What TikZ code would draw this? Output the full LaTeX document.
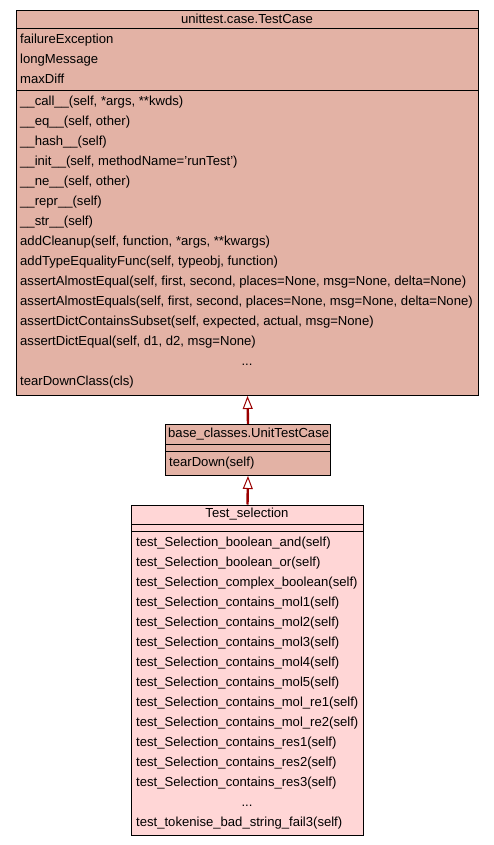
\documentclass[tikz,border=0pt]{standalone}
\usepackage{fontspec}
\setmainfont{Liberation Sans}
\usetikzlibrary{arrows.meta}
\definecolor{basefill}{HTML}{E3B2A5}
\definecolor{leaffill}{HTML}{FFD6D6}
\definecolor{edgered}{HTML}{9A0000}
\tikzset{
  x=1pt, y=-1pt,
  classbox/.style={draw=black, line width=1pt, anchor=north west, inner sep=0pt},
  member/.style={anchor=base west, inner sep=0pt, font=\fontsize{13.1}{14}\selectfont, text=black},
  title/.style={anchor=base, inner sep=0pt, font=\fontsize{13.1}{14}\selectfont, text=black},
  sep/.style={draw=black, line width=1pt},
  inherit/.style={draw=edgered, line width=2.4pt, -{Triangle[open, length=13pt, width=10pt, line width=1pt, fill=white]}},
}
\begin{document}
\begin{tikzpicture}
\useasboundingbox[fill=white] (0,0) rectangle (493,845);
% ---------- top class
\node[classbox, fill=basefill, minimum width=462pt, minimum height=385pt] (top) at (16,10) {};
\draw[sep] (16,29) -- (478,29);
\draw[sep] (16,91) -- (478,91);
\node[title] (topt) at (247,23.5) {unittest.case.TestCase};
\node[member] (a1) at (20,43.5) {failureException};
\node[member] (a2) at (20,63.5) {longMessage};
\node[member] (a3) at (20,83.5) {maxDiff};
\node[member] (m1) at (20,105.5) {\_\_call\_\_(self, *args, **kwds)};
\node[member] (m2) at (20,125.5) {\_\_eq\_\_(self, other)};
\node[member] (m3) at (20,145.5) {\_\_hash\_\_(self)};
\node[member] (m4) at (20,165.5) {\_\_init\_\_(self, methodName='runTest')};
\node[member] (m5) at (20,185.5) {\_\_ne\_\_(self, other)};
\node[member] (m6) at (20,205.5) {\_\_repr\_\_(self)};
\node[member] (m7) at (20,225.5) {\_\_str\_\_(self)};
\node[member] (m8) at (20,245.5) {addCleanup(self, function, *args, **kwargs)};
\node[member] (m9) at (20,265.5) {addTypeEqualityFunc(self, typeobj, function)};
\node[member] (m10) at (20,285.5) {assertAlmostEqual(self, first, second, places=None, msg=None, delta=None)};
\node[member] (m11) at (20,305.5) {assertAlmostEquals(self, first, second, places=None, msg=None, delta=None)};
\node[member] (m12) at (20,325.5) {assertDictContainsSubset(self, expected, actual, msg=None)};
\node[member] (m13) at (20,345.5) {assertDictEqual(self, d1, d2, msg=None)};
\node[title] (m14) at (247,365.5) {...};
\node[member] (m15) at (20,385.5) {tearDownClass(cls)};
% ---------- middle class
\node[classbox, fill=basefill, minimum width=165pt, minimum height=51pt] (mid) at (165,424) {};
\draw[sep] (165,444) -- (330,444);
\draw[sep] (165,451.5) -- (330,451.5);
\node[member] (midt) at (168,437.5) {base\_classes.UnitTestCase};
\node[member] (midm) at (169,466) {tearDown(self)};
% ---------- bottom class
\node[classbox, fill=leaffill, minimum width=232pt, minimum height=330pt] (bot) at (131,504.5) {};
\draw[sep] (131,524) -- (363,524);
\draw[sep] (131,531.5) -- (363,531.5);
\node[title] (bott) at (247,517.5) {Test\_selection};
\node[member] (b1) at (136,546) {test\_Selection\_boolean\_and(self)};
\node[member] (b2) at (136,566) {test\_Selection\_boolean\_or(self)};
\node[member] (b3) at (136,586) {test\_Selection\_complex\_boolean(self)};
\node[member] (b4) at (136,606) {test\_Selection\_contains\_mol1(self)};
\node[member] (b5) at (136,626) {test\_Selection\_contains\_mol2(self)};
\node[member] (b6) at (136,646) {test\_Selection\_contains\_mol3(self)};
\node[member] (b7) at (136,666) {test\_Selection\_contains\_mol4(self)};
\node[member] (b8) at (136,686) {test\_Selection\_contains\_mol5(self)};
\node[member] (b9) at (136,706) {test\_Selection\_contains\_mol\_re1(self)};
\node[member] (b10) at (136,726) {test\_Selection\_contains\_mol\_re2(self)};
\node[member] (b11) at (136,746) {test\_Selection\_contains\_res1(self)};
\node[member] (b12) at (136,766) {test\_Selection\_contains\_res2(self)};
\node[member] (b13) at (136,786) {test\_Selection\_contains\_res3(self)};
\node[title] (b14) at (247,806) {...};
\node[member] (b15) at (136,826) {test\_tokenise\_bad\_string\_fail3(self)};
% ---------- inheritance arrows
\draw[inherit] (mid.north) -- (top.south);
\draw[inherit] (bot.north) -- (mid.south);
\end{tikzpicture}
\end{document}
